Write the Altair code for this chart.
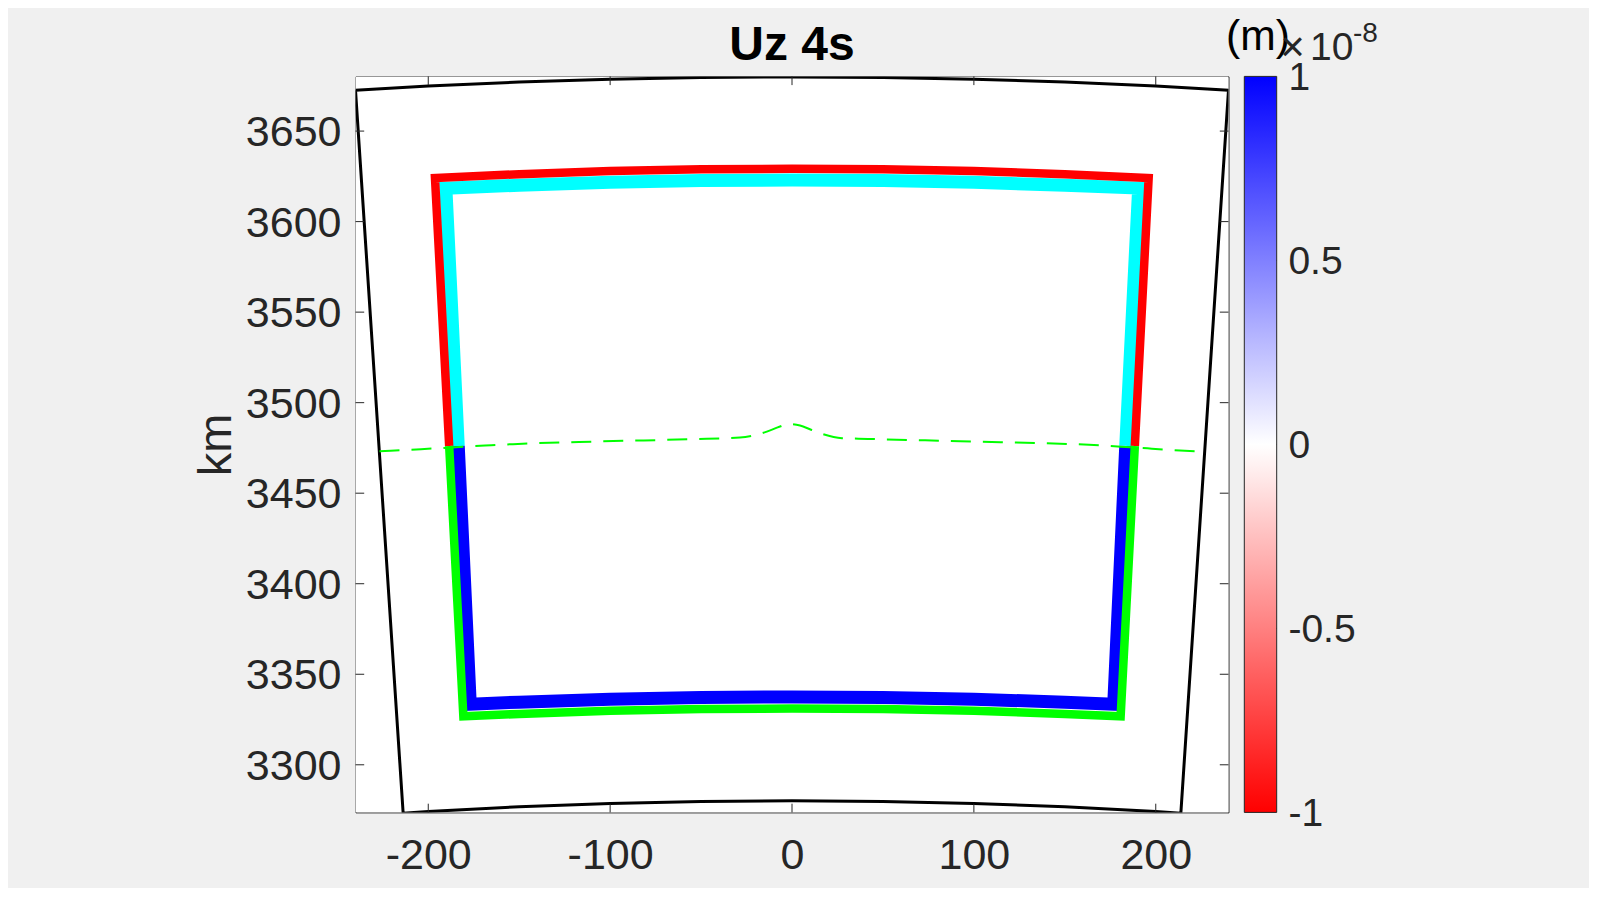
import altair as alt
import pandas as pd

# ---------------- data ----------------
X_DOMAIN = [-240.0, 240.0]
Y_DOMAIN = [3273.7, 3680.2]
X_TICKS = [-200, -100, 0, 100, 200]
Y_TICKS = [3300, 3350, 3400, 3450, 3500, 3550, 3600, 3650]
CBAR_LIMITS = [-1, 1]
CBAR_TICKS = [-1, -0.5, 0, 0.5, 1]
CBAR_DOMAIN = [-1, 0, 1]
CBAR_COLORS = ["#ff0000", "#ffffff", "#0000ff"]
UZ_VALUE = [0.0]  # Uz field at 4 s (white = 0)

TITLE = "Uz 4s"
X_TITLE = "km"
Y_TITLE = "km"
CBAR_UNIT = ["(m)"]
CBAR_EXP_TIMES = ["×"]
CBAR_EXP_BASE = ["10"]
CBAR_EXP_POW = ["-8"]

# black model boundary (closed)
outline_x = [-240.0, -200, -150, -100, -50, 0, 50, 100, 150, 200, 240.0,
             213.8, 200, 150, 100, 50, 0, -50, -100, -150, -200, -213.8, -240.0]
outline_y = [3672.6, 3674.9, 3677.1, 3678.6, 3679.6, 3679.9, 3679.6, 3678.6, 3677.1, 3674.9, 3672.6,
             3273.3, 3274.2, 3276.8, 3278.6, 3279.7, 3280.1, 3279.7, 3278.6, 3276.8, 3274.2, 3273.3, 3672.6]

# outer frame: upper part (red) and lower part (green)
red_x = [-188.5, -196.3, -150, -100, -50, 0, 50, 100, 150, 196.1, 188.5]
red_y = [3476.1, 3624.1, 3626.2, 3627.9, 3628.9, 3629.2, 3628.9, 3627.9, 3626.2, 3624.1, 3476.1]
green_x = [-188.5, -180.7, -150, -100, -50, 0, 50, 100, 150, 180.7, 188.5]
green_y = [3476.1, 3326.8, 3328.1, 3329.8, 3330.8, 3331.1, 3330.8, 3329.8, 3328.1, 3326.8, 3476.1]

# inner frame: upper part (cyan) and lower part (blue)
cyan_x = [-183.5, -190.3, -150, -100, -50, 0, 50, 100, 150, 190.6, 183.5]
cyan_y = [3476.1, 3618.4, 3620.1, 3621.7, 3622.7, 3623.0, 3622.7, 3621.7, 3620.1, 3618.5, 3476.1]
blue_x = [-183.5, -176.9, -150, -100, -50, 0, 50, 100, 150, 176.9, 183.5]
blue_y = [3476.1, 3333.5, 3334.6, 3336.2, 3337.2, 3337.5, 3337.2, 3336.2, 3334.6, 3333.5, 3476.1]

# dashed green trace
dash_x = [-226.8, -204.0, -168.8, -153.4, -105.6, -55.5, -28.6, -16.5, -6.6, -2.2, 4.4,
          10.8, 17.0, 27.5, 41.8, 92.4, 163.3, 180.9, 197.9, 216.0, 227.0]
dash_y = [3473.1, 3474.3, 3476.3, 3477.1, 3478.6, 3479.8, 3480.7, 3483.1, 3486.8, 3488.3, 3487.4,
          3484.9, 3482.6, 3480.4, 3480.0, 3478.7, 3476.7, 3475.7, 3474.6, 3473.4, 3473.0]

# ---------------- layout / style ----------------
W, H = 873, 736
PX_X = W / (X_DOMAIN[1] - X_DOMAIN[0])
PX_Y = H / (Y_DOMAIN[1] - Y_DOMAIN[0])
TICK_PX = 8.7
FONT = "Liberation Sans"
TXT = "#262626"
NEG = "datum.value < 0 ? '-' + (-datum.value) : '' + datum.value"

xs = alt.Scale(domain=X_DOMAIN, nice=False, zero=False)
ys = alt.Scale(domain=Y_DOMAIN, nice=False, zero=False)

x_axis = alt.Axis(values=X_TICKS, title=X_TITLE, grid=False, domain=False, ticks=False, tickSize=0,
                  labelFont=FONT, labelFontSize=43, labelColor=TXT, labelPadding=55.6,
                  labelBaseline="alphabetic", labelExpr=NEG, labelFlush=False,
                  titleFont=FONT, titleFontSize=47, titleFontWeight="normal", titleColor=TXT,
                  titleY=114, titleBaseline="alphabetic")
y_axis = alt.Axis(values=Y_TICKS, title=Y_TITLE, orient="left", grid=False, domain=False,
                  ticks=False, tickSize=0,
                  labelFont=FONT, labelFontSize=43, labelColor=TXT, labelPadding=14.5,
                  labelExpr=NEG, labelFlush=False, labelOffset=1.5,
                  titleFont=FONT, titleFontSize=47, titleFontWeight="normal", titleColor=TXT,
                  titleX=-125.5, titleBaseline="alphabetic")


def X(field="x"):
    return alt.X(field + ":Q", scale=xs, axis=x_axis)


def Y(field="y"):
    return alt.Y(field + ":Q", scale=ys, axis=y_axis)


def line_layer(xv, yv, color, width, dash=None, interp="linear"):
    df = pd.DataFrame({"x": xv, "y": yv, "i": list(range(len(xv)))})
    kw = dict(color=color, strokeWidth=width, clip=True, strokeJoin="miter",
              strokeCap="butt", interpolate=interp)
    if dash:
        kw["strokeDash"] = dash
    return alt.Chart(df).mark_line(**kw).encode(x=X(), y=Y(), order="i:Q")


# Uz field (white) with the colour bar gradient
field_df = pd.DataFrame({"x": [X_DOMAIN[0]], "x2": [X_DOMAIN[1]],
                         "y": [Y_DOMAIN[0]], "y2": [Y_DOMAIN[1]], "uz": UZ_VALUE})
field = alt.Chart(field_df).mark_rect(clip=True).encode(
    x=X(), x2="x2:Q", y=Y(), y2="y2:Q",
    color=alt.Color("uz:Q",
                    scale=alt.Scale(domain=CBAR_DOMAIN, range=CBAR_COLORS, interpolate="rgb"),
                    legend=alt.Legend(title=None, orient="none", legendX=888.8, legendY=0,
                                      direction="vertical", gradientLength=H,
                                      gradientThickness=32.4, gradientStrokeColor=TXT,
                                      gradientStrokeWidth=1, labelOpacity=0, labelExpr="''",
                                      padding=0)))

# inward ticks on all four sides of the box
tl_x = TICK_PX / PX_X
tl_y = TICK_PX / PX_Y
tick_rows = []
for v in X_TICKS:
    tick_rows.append({"x": v, "x2": v, "y": Y_DOMAIN[0], "y2": Y_DOMAIN[0] + tl_y})
    tick_rows.append({"x": v, "x2": v, "y": Y_DOMAIN[1], "y2": Y_DOMAIN[1] - tl_y})
for v in Y_TICKS:
    tick_rows.append({"x": X_DOMAIN[0], "x2": X_DOMAIN[0] + tl_x, "y": v, "y2": v})
    tick_rows.append({"x": X_DOMAIN[1], "x2": X_DOMAIN[1] - tl_x, "y": v, "y2": v})
ticks = alt.Chart(pd.DataFrame(tick_rows)).mark_rule(color=TXT, strokeWidth=1).encode(
    x=X(), x2="x2:Q", y=Y(), y2="y2:Q")


def text_layer(values, px, py, size, align, baseline, color=TXT):
    return alt.Chart(pd.DataFrame({"t": values})).mark_text(
        font=FONT, fontSize=size, align=align, baseline=baseline, color=color).encode(
        text="t:N", x=alt.value(px), y=alt.value(py))


unit = text_layer(CBAR_UNIT, 902.5, -26.4, 42.6, "center", "alphabetic", "black")
times = text_layer(CBAR_EXP_TIMES, 937, -15.5, 42, "center", "alphabetic")
base = text_layer(CBAR_EXP_BASE, 954.5, -16.4, 39, "left", "alphabetic")
power = text_layer(CBAR_EXP_POW, 997.5, -34.4, 28, "left", "alphabetic")

main = alt.layer(
    field,
    line_layer(outline_x, outline_y, "black", 3),
    line_layer(cyan_x, cyan_y, "#00ffff", 13),
    line_layer(blue_x, blue_y, "#0000ff", 13),
    line_layer(red_x, red_y, "#ff0000", 8.5),
    line_layer(green_x, green_y, "#00ff00", 8.5),
    line_layer(dash_x, dash_y, "#00ff00", 2, dash=[20, 12], interp="monotone"),
    ticks,
    unit, times, base, power,
)

# colour-bar labels and inner ticks on their own value scale
cbar_axis = alt.Axis(orient="right", values=CBAR_TICKS, labelExpr=NEG, grid=False, domain=False,
                     ticks=False, tickSize=0, offset=48.1, labelPadding=11.3, labelFont=FONT,
                     labelFontSize=39, labelColor=TXT, labelFlush=False, labelAlign="left",
                     labelOffset=1.5, title=None)
cbar_df = pd.DataFrame({"v": [t for t in CBAR_TICKS if CBAR_LIMITS[0] < t < CBAR_LIMITS[1]]})
cbar = alt.Chart(cbar_df).mark_rule(color=TXT, strokeWidth=1).encode(
    y=alt.Y("v:Q", scale=alt.Scale(domain=CBAR_LIMITS, nice=False, zero=False), axis=cbar_axis),
    x=alt.value(913.5), x2=alt.value(921.2))

chart = alt.layer(main, cbar).resolve_scale(y="independent").properties(
    width=W, height=H,
    title=alt.TitleParams(TITLE, font=FONT, fontSize=48, fontWeight="bold", color="black",
                          anchor="middle", frame="group", baseline="alphabetic", offset=0, dy=92),
    autosize=alt.AutoSizeParams(type="none"),
    padding={"left": 347.5, "top": 68.4, "right": 360, "bottom": 75.6},
    background="#f0f0f0",
).configure_view(stroke=TXT, strokeWidth=1, fill="white")

chart.save("out.html", embed_options={"renderer": "svg", "actions": False})
